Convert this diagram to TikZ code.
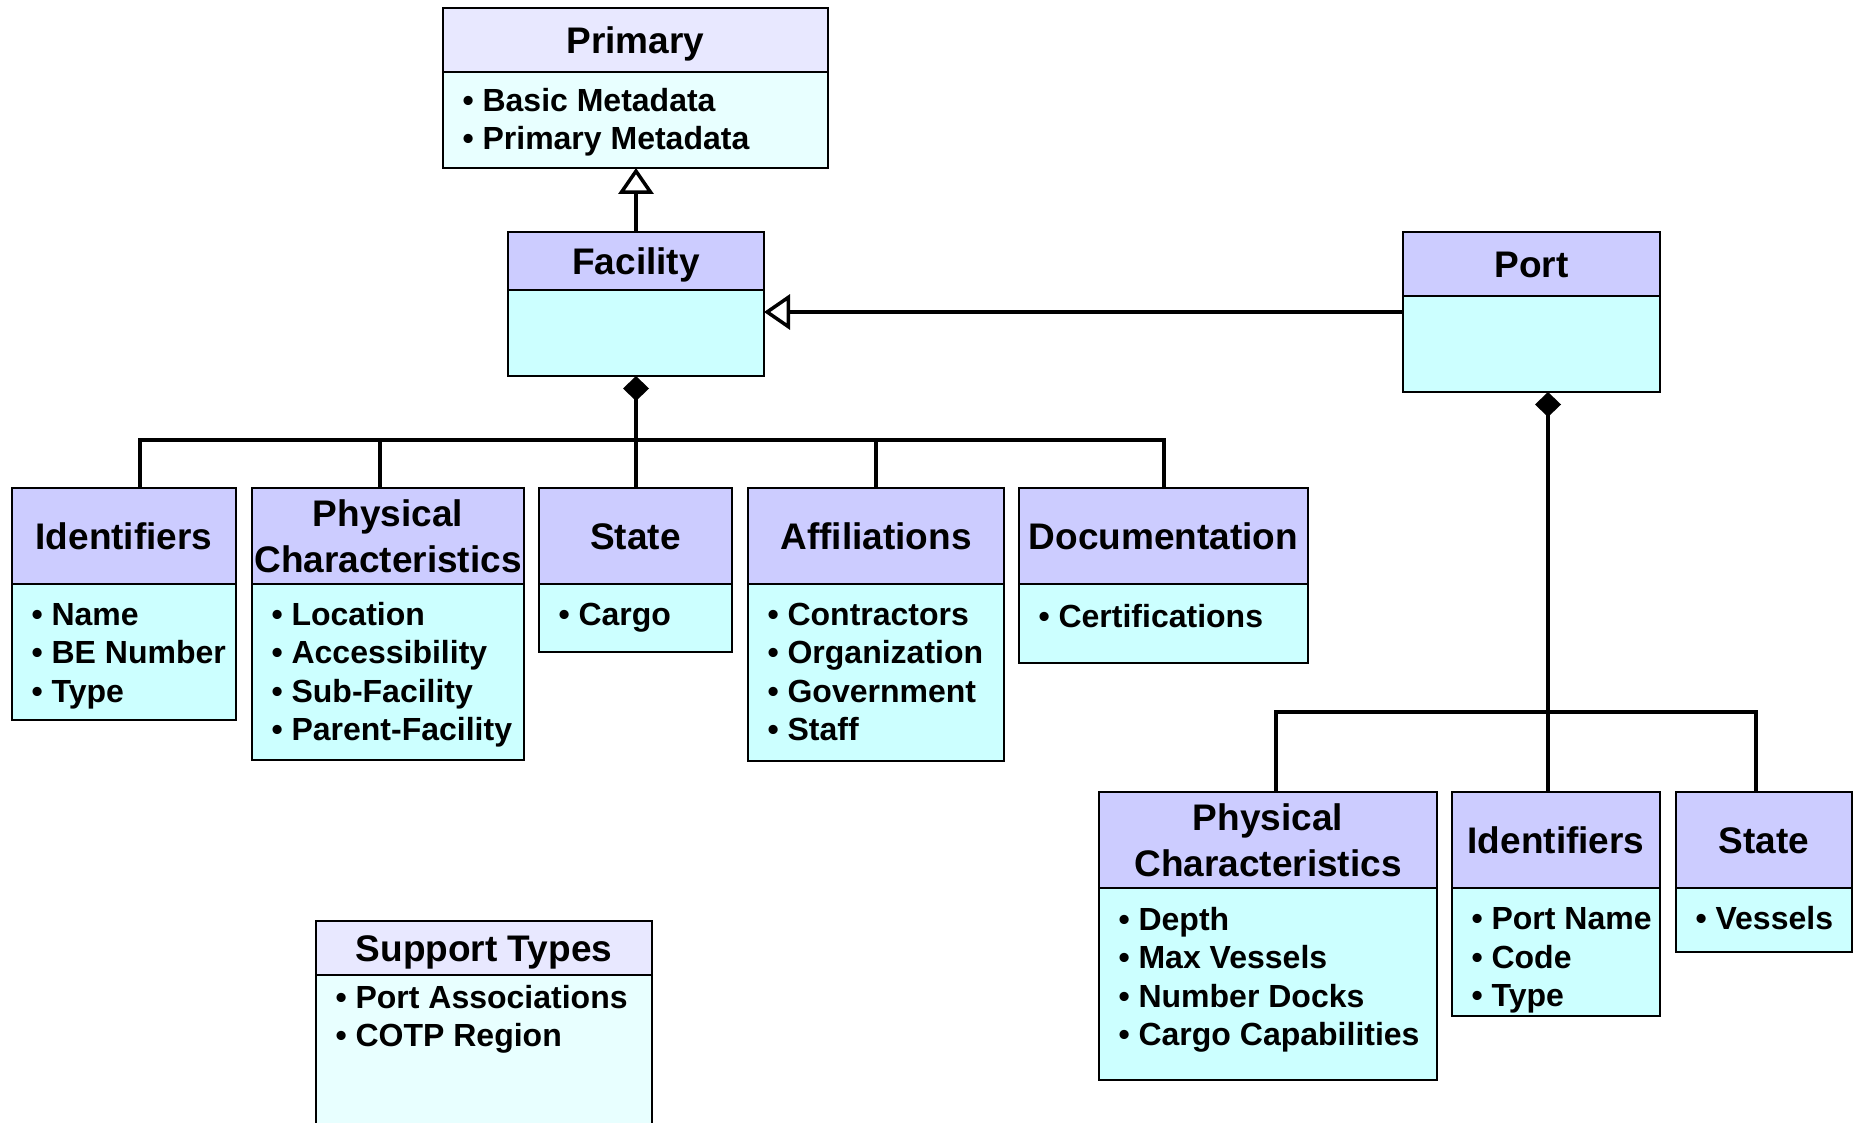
\documentclass[tikz,border=0pt]{standalone}
\usepackage{fontspec}
\setmainfont{Liberation Sans}
\usetikzlibrary{arrows.meta}

\definecolor{hdrfill}{RGB}{204,204,255}
\definecolor{bodyfill}{RGB}{204,255,255}
\definecolor{hdrlight}{RGB}{232,232,255}
\definecolor{bodylight}{RGB}{232,255,255}

\newcommand\titlefont{\bfseries\fontsize{37}{46}\selectfont}
\newcommand\itemfont{\bfseries\fontsize{32}{38.5}\selectfont}

\tikzset{
  box/.style={draw=black, line width=2.8pt, inner sep=0pt, outer sep=0pt, anchor=north west},
  head/.style={box, fill=hdrfill, font=\titlefont, align=center, text height=26.5pt, text depth=0pt},
  twohead/.style={head, text height=72.5pt},
  body/.style={box, fill=bodyfill},
  % item lists are placed by the baseline of their last line
  items/.style={inner sep=0pt, outer sep=0pt, anchor=base west, align=left, font=\itemfont},
  link/.style={line width=3.5pt},
  gen/.style={link, -{Triangle[length=26pt, width=35pt, fill=white, line width=3.5pt]}},
  comp/.style={link, {Diamond[length=25pt, width=26pt]}-},
}

\begin{document}
\begin{tikzpicture}[x=1pt, y=-1pt]
\path[use as bounding box] (0,0) rectangle (1854,1123);
\clip (0,0) rectangle (1854,1123);

% ---- top level classes
\node[head, fill=hdrlight, minimum width=385pt, minimum height=64pt] (priH) at (443,8) {Primary};
\node[body, fill=bodylight, minimum width=385pt, minimum height=96pt] (priB) at (443,72) {};
\node[items] (priT) at (462.5,150) {• Basic Metadata\\• Primary Metadata};

\node[head, minimum width=256pt, minimum height=58pt] (facH) at (508,232) {Facility};
\node[body, minimum width=256pt, minimum height=86pt] (facB) at (508,290) {};

\node[head, minimum width=257pt, minimum height=64pt] (portH) at (1403,232) {Port};
\node[body, minimum width=257pt, minimum height=96pt] (portB) at (1403,296) {};

% ---- facility parts
\node[head, minimum width=224pt, minimum height=96pt] (fidH) at (12,488) {Identifiers};
\node[body, minimum width=224pt, minimum height=136pt] (fidB) at (12,584) {};
\node[items] (fidT) at (31.5,702) {• Name\\• BE Number\\• Type};

\node[twohead, minimum width=272pt, minimum height=96pt] (fphH) at (252,488) {Physical\\Characteristics};
\node[body, minimum width=272pt, minimum height=176pt] (fphB) at (252,584) {};
\node[items] (fphT) at (271.5,740.5) {• Location\\• Accessibility\\• Sub-Facility\\• Parent-Facility};

\node[head, minimum width=193pt, minimum height=96pt] (fstH) at (539,488) {State};
\node[body, minimum width=193pt, minimum height=68pt] (fstB) at (539,584) {};
\node[items] (fstT) at (558.5,625) {• Cargo};

\node[head, minimum width=256pt, minimum height=96pt] (faffH) at (748,488) {Affiliations};
\node[body, minimum width=256pt, minimum height=177pt] (faffB) at (748,584) {};
\node[items] (faffT) at (767.5,740.5) {• Contractors\\• Organization\\• Government\\• Staff};

\node[head, minimum width=289pt, minimum height=96pt] (fdocH) at (1019,488) {Documentation};
\node[body, minimum width=289pt, minimum height=79pt] (fdocB) at (1019,584) {};
\node[items] (fdocT) at (1038.5,627.5) {• Certifications};

% ---- port parts
\node[twohead, minimum width=338pt, minimum height=96pt] (pphH) at (1099,792) {Physical\\Characteristics};
\node[body, minimum width=338pt, minimum height=192pt] (pphB) at (1099,888) {};
\node[items] (pphT) at (1118.5,1045.5) {• Depth\\• Max Vessels\\• Number Docks\\• Cargo Capabilities};

\node[head, minimum width=208pt, minimum height=96pt] (pidH) at (1452,792) {Identifiers};
\node[body, minimum width=208pt, minimum height=128pt] (pidB) at (1452,888) {};
\node[items] (pidT) at (1471.5,1006.5) {• Port Name\\• Code\\• Type};

\node[head, minimum width=176pt, minimum height=96pt] (pstH) at (1676,792) {State};
\node[body, minimum width=176pt, minimum height=64pt] (pstB) at (1676,888) {};
\node[items] (pstT) at (1695.5,929.5) {• Vessels};

% ---- support types (runs off the lower edge)
\node[head, fill=hdrlight, minimum width=336pt, minimum height=54pt] (supH) at (316,921) {Support Types};
\node[body, fill=bodylight, minimum width=336pt, minimum height=220pt] (supB) at (316,975) {};
\node[items] (supT) at (335.5,1046.5) {• Port Associations\\• COTP Region};

% ---- generalizations
\draw[gen] (facH.north) -- (facH.north |- priB.south);
\coordinate (genY) at (0,312);
\draw[gen] (genY -| portB.west) -- (genY -| facB.east);

% ---- facility composition
\coordinate (fb1) at (140,440);
\coordinate (fb2) at (380,440);
\coordinate (fb4) at (876,440);
\coordinate (fb5) at (1164,440);
\draw[comp] (facB.south) -- (facB.south |- fstH.north);
\draw[link] (fb1 |- fidH.north) -- (fb1) -- (fb5) -- (fb5 |- fdocH.north);
\draw[link] (fb2) -- (fb2 |- fphH.north);
\draw[link] (fb4) -- (fb4 |- faffH.north);

% ---- port composition
\coordinate (pb1) at (1276,712);
\coordinate (pb2) at (1548,712);
\coordinate (pb3) at (1756,712);
\draw[comp] (pb2 |- portB.south) -- (pb2 |- pidH.north);
\draw[link] (pb1 |- pphH.north) -- (pb1) -- (pb3) -- (pb3 |- pstH.north);
\end{tikzpicture}
\end{document}
